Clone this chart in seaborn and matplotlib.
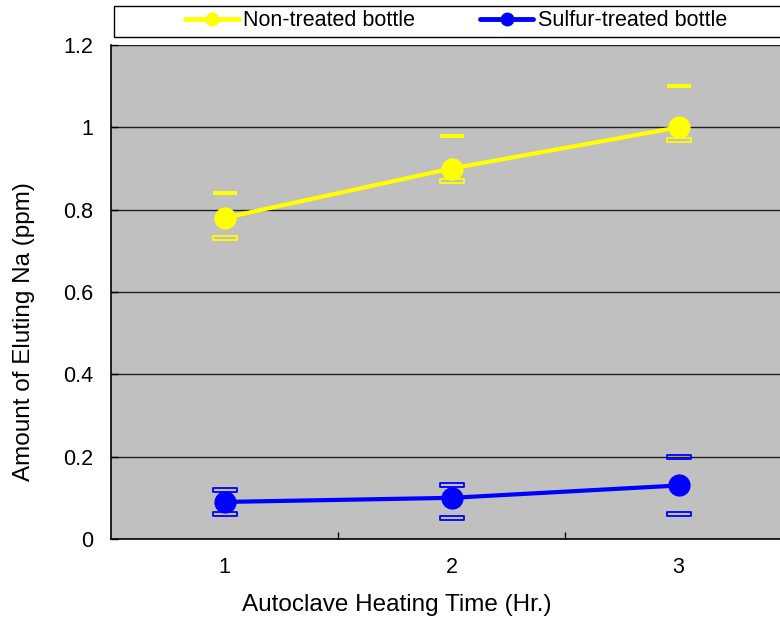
import numpy as np
import seaborn as sns
import matplotlib.pyplot as plt
import pandas as pd
from matplotlib.path import Path
from matplotlib.patches import Rectangle
from matplotlib.ticker import MultipleLocator, FixedLocator, FuncFormatter

# data
hours = [1, 2, 3]
non_treated = [0.78, 0.90, 1.00]
non_treated_hi = [0.84, 0.98, 1.10]
non_treated_lo = [0.73, 0.87, 0.97]
sulfur = [0.09, 0.10, 0.13]
sulfur_hi = [0.12, 0.13, 0.20]
sulfur_lo = [0.06, 0.05, 0.06]

LAB1 = 'Non-treated bottle'
LAB2 = 'Sulfur-treated bottle'
YELLOW = '#FFFF00'
BLUE = '#0000FF'
FS = 15.5

df = pd.concat([
    pd.DataFrame({'x': hours, 'y': non_treated, 'label': LAB1}),
    pd.DataFrame({'x': hours, 'y': sulfur, 'label': LAB2}),
], ignore_index=True)

sns.set_theme(style='white')
plt.rcParams['font.family'] = ['Liberation Sans', 'DejaVu Sans']
plt.rcParams['text.color'] = 'black'
plt.rcParams['axes.labelcolor'] = 'black'
plt.rcParams['xtick.color'] = 'black'
plt.rcParams['ytick.color'] = 'black'

fig = plt.figure(figsize=(7.8, 6.26), dpi=100)
ax = fig.add_axes([111 / 780, 1 - 539 / 626, 681 / 780, 494 / 626])
ax.set_facecolor('#C0C0C0')

sns.lineplot(data=df, x='x', y='y', hue='label',
             palette={LAB1: YELLOW, LAB2: BLUE},
             marker='o', markersize=16, markeredgewidth=0,
             linewidth=3, ax=ax, legend=False, zorder=4)

# flat rectangle marker for the error limits
cap = Path([(-1, -0.2), (1, -0.2), (1, 0.2), (-1, 0.2), (-1, -0.2)],
           [Path.MOVETO, Path.LINETO, Path.LINETO, Path.LINETO, Path.CLOSEPOLY])

ax.plot(hours, non_treated_hi, ls='none', marker=cap, markersize=17,
        color=YELLOW, markeredgewidth=0, zorder=5)
ax.plot(hours, non_treated_lo, ls='none', marker=cap, markersize=17,
        markerfacecolor='none', markeredgecolor=YELLOW, markeredgewidth=1.3, zorder=5)
ax.plot(hours, sulfur_hi, ls='none', marker=cap, markersize=17,
        markerfacecolor='none', markeredgecolor=BLUE, markeredgewidth=1.3, zorder=5)
ax.plot(hours, sulfur_lo, ls='none', marker=cap, markersize=17,
        markerfacecolor='none', markeredgecolor=BLUE, markeredgewidth=1.3, zorder=5)

ax.set_xlim(0.5, 3.5)
ax.set_ylim(0, 1.2)
ax.yaxis.set_major_locator(MultipleLocator(0.2))
ax.yaxis.set_major_formatter(FuncFormatter(lambda v, p: f'{v:g}'))
ax.xaxis.set_major_locator(FixedLocator(hours))
ax.xaxis.set_minor_locator(FixedLocator([1.5, 2.5]))
ax.grid(axis='y', color='#202020', linewidth=1)
ax.set_axisbelow(True)

ax.tick_params(axis='x', which='major', length=0, pad=13, labelsize=FS)
ax.tick_params(axis='x', which='minor', direction='in', length=5, width=1, color='black', bottom=True)
ax.tick_params(axis='y', direction='in', length=5, width=1, color='black', left=True, labelsize=FS, pad=13)

for side in ['top', 'right']:
    ax.spines[side].set_visible(False)
for side in ['left', 'bottom']:
    ax.spines[side].set_color('black')
    ax.spines[side].set_linewidth(1.2)

ax.set_xlabel('Autoclave Heating Time (Hr.)', fontsize=17.5)
ax.set_ylabel('Amount of Eluting Na (ppm)', fontsize=17.5)
# the titles sit a bit off the centre of the visible plot area
ax.xaxis.set_label_coords(0.42, -0.112)
ax.yaxis.set_label_coords(-0.112, 0.42)

# legend box across the top
fig.patches.append(Rectangle((114 / 780, 1 - 37 / 626), 680 / 780, 31 / 626,
                             transform=fig.transFigure, facecolor='white',
                             edgecolor='black', linewidth=1))
handles = [plt.Line2D([], [], color=YELLOW, lw=3.5, marker='o', markersize=9),
           plt.Line2D([], [], color=BLUE, lw=3.5, marker='o', markersize=9)]
fig.legend(handles, [LAB1, LAB2], loc='center', ncol=2, frameon=False,
           bbox_to_anchor=(456 / 780, 1 - 21 / 626), fontsize=FS,
           handlelength=2.5, handletextpad=0.2, columnspacing=3)

plt.savefig('out.png', dpi=100)
